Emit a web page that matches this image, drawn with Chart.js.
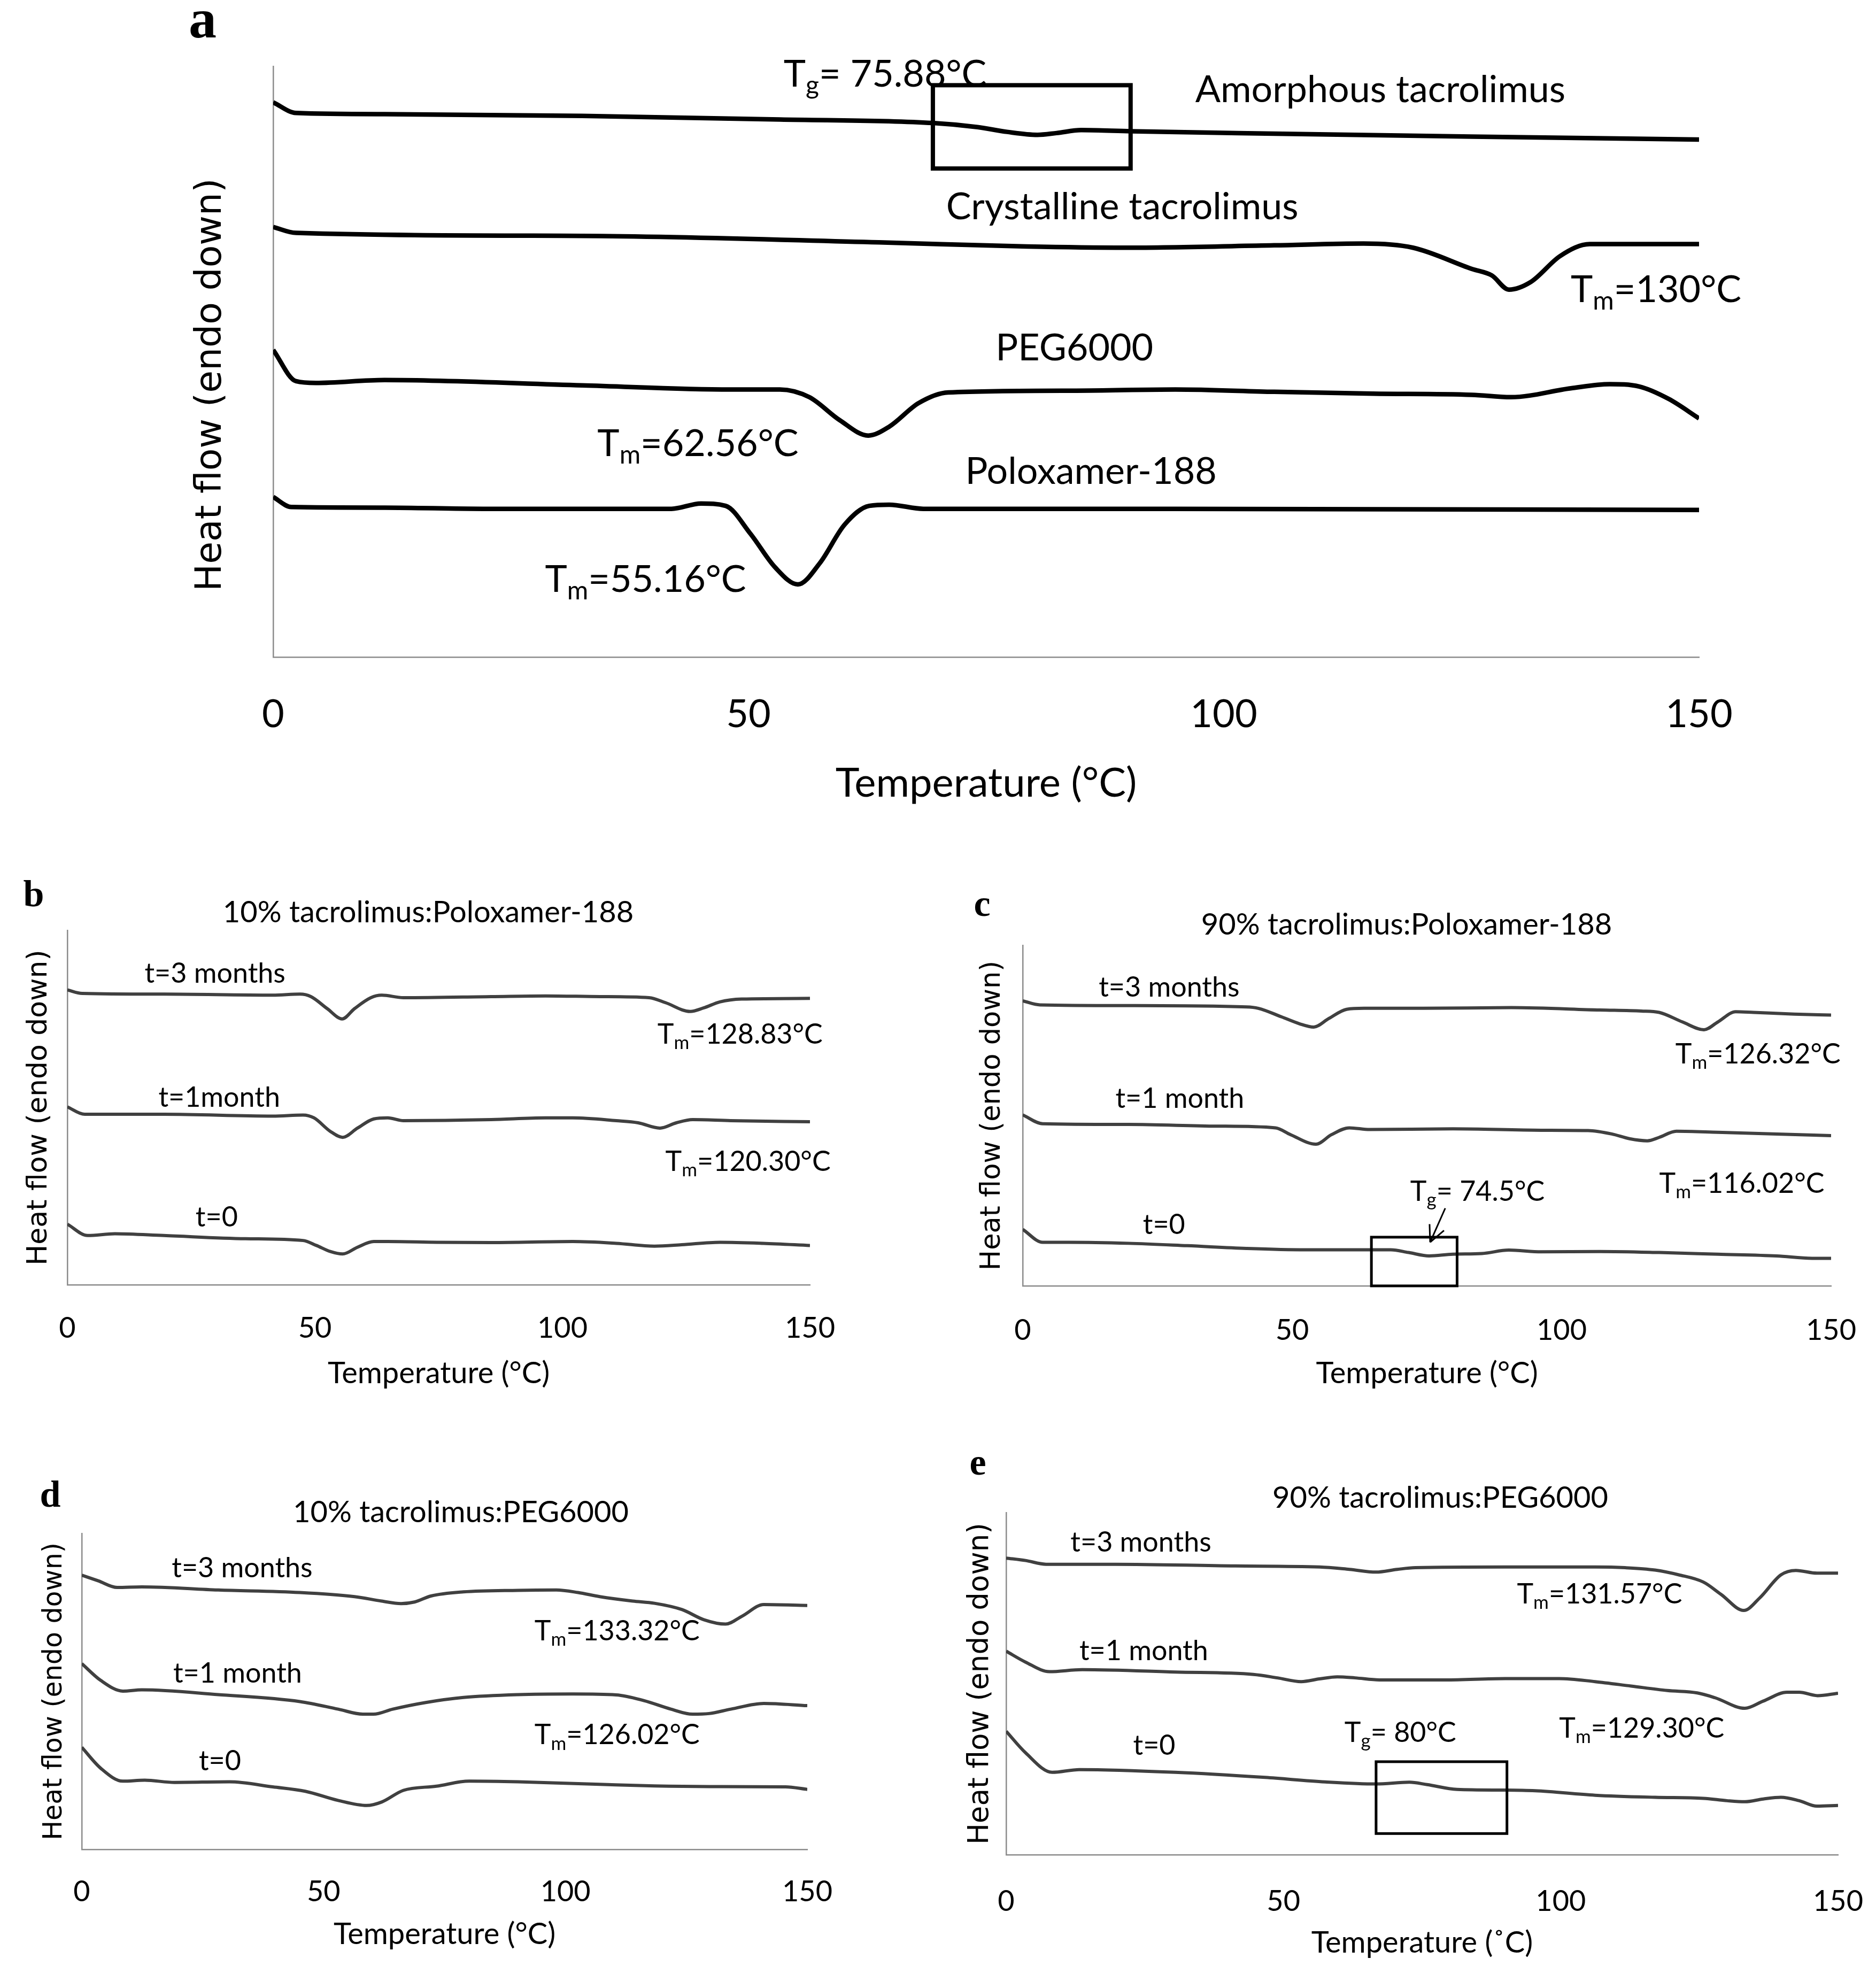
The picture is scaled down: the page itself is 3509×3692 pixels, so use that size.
<!DOCTYPE html>
<html>
<head>
<meta charset="utf-8">
<script src="https://cdn.jsdelivr.net/npm/chart.js@4.4.1/dist/chart.umd.min.js"></script>
<style>
  html, body { margin: 0; padding: 0; background: #fff; }
  #page { position: relative; width: 3509px; height: 3692px; overflow: hidden; background: #fff; }
  .box { position: absolute; }
  .lbl { position: absolute; transform: translate(-50%, -50%); white-space: nowrap; line-height: 1; color: #000; }
  .letter { font-family: "Liberation Serif", serif; font-weight: bold; }
  .ttl { font-family: Lato, sans-serif; }
</style>
</head>
<body>
<div id="page">
  <div class="lbl letter" style="left:379px;top:35px;font-size:104px">a</div>
  <div class="lbl letter" style="left:63px;top:1672px;font-size:70px">b</div>
  <div class="lbl letter" style="left:1837px;top:1690px;font-size:70px">c</div>
  <div class="lbl letter" style="left:94px;top:2795px;font-size:70px">d</div>
  <div class="lbl letter" style="left:1829px;top:2735px;font-size:70px">e</div>
  <div class="lbl ttl" style="left:801px;top:1704px;font-size:56px">10% tacrolimus:Poloxamer-188</div>
  <div class="lbl ttl" style="left:2631px;top:1727px;font-size:56px">90% tacrolimus:Poloxamer-188</div>
  <div class="lbl ttl" style="left:862px;top:2826px;font-size:56px">10% tacrolimus:PEG6000</div>
  <div class="lbl ttl" style="left:2694px;top:2799px;font-size:56px">90% tacrolimus:PEG6000</div>
</div>
<script>
// x ticks shared by every panel
const xTicks = [0, 50, 100, 150];

// panel a - pure components
const amorphT = [0, 2.4, 11.7, 32.5, 53.3, 69.4, 74.1, 77.2, 80.4, 82.4, 85.0, 90.2, 105.3, 126.1, 150];
const amorphHF = [93.9, 92.1, 91.9, 91.6, 91.0, 90.4, 89.7, 88.9, 88.4, 88.7, 89.2, 89.0, 88.6, 88.1, 87.6];
const crystT = [0, 2.4, 32.5, 63.7, 79.3, 89.7, 105.3, 114.7, 119.9, 126.1, 128.2, 130, 132.3, 135.4, 138.5, 150];
const crystHF = [72.8, 71.8, 71.3, 70.2, 69.5, 69.3, 69.7, 70.0, 69.3, 65.7, 64.6, 62.2, 63.5, 67.9, 69.9, 69.9];
const pegT = [0, 2.4, 4.5, 11.7, 32.5, 48.1, 53.3, 56.4, 59.6, 62.6, 64.8, 67.9, 71.0, 84.5, 94.9, 105.3, 115.7, 126.1, 130.2, 136.5, 140.6, 143.7, 146.8, 150];
const pegHF = [52.0, 46.7, 46.4, 46.9, 46.0, 45.3, 45.3, 44.0, 40.1, 37.5, 39.0, 43.0, 44.8, 45.1, 45.3, 44.9, 44.6, 44.4, 44.0, 45.5, 46.2, 45.8, 43.7, 40.4];
const poloxT = [0, 1.9, 11.7, 22.1, 41.9, 45.0, 47.6, 50.2, 52.8, 55.2, 57.5, 60.1, 62.7, 64.8, 68.4, 94.9, 150];
const poloxHF = [27.1, 25.4, 25.3, 25.1, 25.1, 26.0, 25.6, 20.9, 15.2, 12.3, 15.9, 22.4, 25.6, 25.8, 25.1, 25.1, 24.9];

// panel b - 10% tacrolimus:Poloxamer-188
const b3T = [0, 3.0, 19.5, 41.5, 47.0, 49.2, 52.5, 55.5, 58.0, 61.3, 63.5, 67.9, 85.6, 96.6, 107.6, 117.5, 120.8, 125.8, 128.5, 131.8, 136.2, 150];
const b3HF = [83.2, 82.2, 82.0, 81.7, 82.0, 81.3, 77.9, 75.0, 77.9, 81.0, 81.7, 81.0, 81.3, 81.5, 81.3, 81.0, 79.6, 77.1, 78.1, 79.8, 80.6, 80.8];
const b1T = [0, 3.5, 19.5, 41.5, 47.6, 49.8, 53.1, 55.6, 58.6, 61.9, 64.7, 67.9, 85.6, 96.6, 102.1, 110.9, 115.3, 119.7, 123.0, 126.3, 134.0, 150];
const b1HF = [50.2, 48.1, 48.1, 47.6, 47.9, 47.1, 43.3, 41.6, 44.2, 46.8, 47.1, 46.3, 46.6, 47.1, 47.1, 46.3, 45.7, 44.2, 45.7, 46.6, 46.3, 46.0];
const b0T = [0, 4.1, 9.6, 19.5, 36.0, 47.6, 50.3, 53.1, 55.6, 58.6, 61.9, 64.7, 74.6, 85.6, 102.1, 110.9, 118.6, 124.1, 131.8, 140.6, 150];
const b0HF = [17.1, 13.9, 14.4, 13.9, 13.0, 12.5, 11.1, 9.4, 8.7, 10.6, 12.2, 12.2, 12.0, 11.9, 12.2, 11.7, 10.9, 11.3, 12.0, 11.7, 11.1];

// panel c - 90% tacrolimus:Poloxamer-188
const c3T = [0, 3.2, 19.6, 41.5, 43.7, 48.0, 51.3, 54.0, 56.8, 60.1, 63.3, 74.3, 90.7, 107.1, 114.8, 118.1, 122.4, 126.4, 129.0, 132.3, 135.6, 143.2, 150];
const c3HF = [83.7, 82.5, 82.3, 81.9, 81.5, 79.0, 77.0, 76.0, 78.5, 81.2, 81.5, 81.5, 81.7, 81.0, 80.7, 80.3, 77.5, 75.2, 77.5, 80.5, 80.3, 79.8, 79.5];
const c1T = [0, 3.7, 19.6, 36.0, 46.9, 49.7, 54.4, 57.3, 60.6, 64.4, 79.8, 96.2, 104.9, 109.3, 112.6, 115.9, 118.1, 121.3, 129.0, 139.9, 150];
const c1HF = [50.2, 47.6, 47.4, 46.9, 46.4, 44.4, 41.6, 44.4, 46.4, 45.9, 46.1, 45.7, 45.6, 44.6, 43.2, 42.6, 43.6, 45.4, 45.1, 44.6, 44.1];
const c0T = [0, 3.7, 8.6, 19.6, 30.5, 41.5, 52.4, 68.3, 71.6, 75.4, 79.8, 85.2, 90.2, 96.2, 107.1, 118.1, 129.0, 139.9, 146.5, 150];
const c0HF = [16.6, 12.8, 12.8, 12.5, 11.8, 11.0, 10.6, 10.6, 9.8, 8.8, 9.3, 9.5, 10.5, 10.0, 10.1, 9.8, 9.3, 8.8, 8.1, 8.1];

// panel d - 10% tacrolimus:PEG6000
const d3T = [0, 3.4, 7.3, 12.4, 28.2, 45.1, 56.4, 62.0, 66.0, 68.8, 72.2, 78.9, 90.2, 98.1, 102.6, 107.1, 113.9, 118.4, 124.1, 128.6, 133.1, 136.5, 141.0, 150];
const d3HF = [86.8, 85.0, 82.9, 83.1, 82.1, 81.3, 80.0, 78.6, 77.8, 78.3, 80.2, 81.5, 82.0, 82.1, 81.3, 80.0, 78.6, 77.9, 75.9, 72.7, 71.3, 73.8, 77.5, 77.2];
const d1T = [0, 3.9, 8.5, 12.4, 28.2, 45.1, 53.0, 58.1, 60.3, 64.3, 71.1, 78.9, 90.2, 101.5, 110.5, 116.2, 121.8, 126.3, 129.7, 134.2, 141.0, 150];
const d1HF = [58.8, 53.5, 50.1, 50.5, 49.0, 46.8, 44.4, 42.8, 42.8, 44.4, 46.5, 48.1, 49.0, 49.2, 48.9, 47.1, 44.4, 42.8, 43.0, 44.4, 46.2, 45.5];
const d0T = [0, 3.9, 8.5, 13.0, 19.2, 30.5, 39.5, 46.2, 53.0, 58.9, 62.0, 66.5, 73.3, 80.1, 90.2, 107.1, 118.4, 129.7, 145.5, 150];
const d0HF = [32.3, 25.7, 21.6, 21.9, 21.2, 21.4, 19.8, 18.4, 15.5, 13.9, 15.0, 18.7, 20.0, 21.6, 21.4, 20.6, 20.1, 19.9, 19.8, 19.0];

// panel e - 90% tacrolimus:PEG6000
const e3T = [0, 3.5, 7.2, 19.7, 41.3, 56.5, 61.9, 66.7, 70.5, 73.8, 90.0, 106.2, 111.6, 117.0, 121.3, 125.7, 128.9, 133.0, 135.9, 139.7, 142.4, 146.2, 150];
const e3HF = [86.7, 86.0, 84.9, 84.9, 84.4, 84.1, 83.4, 82.6, 83.4, 83.9, 84.1, 84.1, 83.9, 83.2, 81.8, 79.7, 76.1, 71.4, 75.1, 81.8, 83.1, 82.3, 82.3];
const e1T = [0, 3.5, 7.8, 13.7, 30.5, 44.6, 48.9, 53.2, 56.5, 59.7, 62.9, 67.3, 79.1, 90.0, 99.7, 106.2, 112.7, 119.2, 124.6, 127.8, 133.2, 136.5, 140.8, 143.0, 146.3, 150];
const e1HF = [59.5, 56.3, 53.5, 54.1, 53.4, 52.7, 51.7, 50.6, 51.4, 52.0, 51.7, 51.1, 51.1, 51.5, 51.5, 50.6, 49.3, 48.0, 47.3, 45.9, 42.8, 44.9, 47.5, 47.5, 46.5, 47.2];
const e0T = [0, 3.5, 8.3, 13.2, 30.5, 46.7, 57.5, 66.7, 72.7, 75.9, 81.3, 90.0, 95.4, 106.2, 117.0, 125.7, 130.0, 133.2, 136.5, 139.7, 143.0, 146.2, 150];
const e0HF = [36.1, 29.8, 24.1, 24.9, 24.1, 22.6, 21.3, 20.7, 21.2, 20.5, 19.1, 18.9, 18.7, 17.4, 16.8, 16.5, 15.8, 15.5, 16.3, 16.8, 15.8, 14.2, 14.4];

// text notes placed in data units: [temperature, heat flow, text]
const aNotes = [
  [53.7, 98.6, "T_{g}= 75.88°C"],
  [97.0, 96.0, "Amorphous tacrolimus"],
  [70.8, 76.2, "Crystalline tacrolimus"],
  [136.5, 62.1, "T_{m}=130°C"],
  [76.0, 52.3, "PEG6000"],
  [34.1, 36.1, "T_{m}=62.56°C"],
  [72.8, 31.4, "Poloxamer-188"],
  [28.6, 13.1, "T_{m}=55.16°C"]
];
const bNotes = [
  [15.6, 87.7, "t=3 months"],
  [119.2, 70.6, "T_{m}=128.83°C"],
  [18.4, 52.8, "t=1month"],
  [120.8, 34.7, "T_{m}=120.30°C"],
  [25.9, 19.0, "t=0"]
];
const cNotes = [
  [14.1, 87.5, "t=3 months"],
  [121.1, 67.9, "T_{m}=126.32°C"],
  [17.2, 54.9, "t=1 month"],
  [118.1, 29.9, "T_{m}=116.02°C"],
  [71.9, 27.6, "T_{g}= 74.5°C"],
  [22.3, 17.8, "t=0"]
];
const dNotes = [
  [18.6, 89.0, "t=3 months"],
  [93.6, 69.0, "T_{m}=133.32°C"],
  [18.9, 55.6, "t=1 month"],
  [93.6, 36.1, "T_{m}=126.02°C"],
  [24.2, 27.8, "t=0"]
];
const eNotes = [
  [11.6, 91.2, "t=3 months"],
  [92.1, 76.1, "T_{m}=131.57°C"],
  [13.2, 59.5, "t=1 month"],
  [61.0, 35.6, "T_{g}= 80°C"],
  [99.7, 36.8, "T_{m}=129.30°C"],
  [22.9, 31.9, "t=0"]
];

function drawRich(ctx, str, x, y, size) {
  const re = /_\{([^}]*)\}/g;
  const parts = [];
  let last = 0, m;
  while ((m = re.exec(str))) {
    if (m.index > last) parts.push([str.slice(last, m.index), false]);
    parts.push([m[1], true]);
    last = re.lastIndex;
  }
  if (last < str.length) parts.push([str.slice(last), false]);
  let cx = x;
  for (const [t, sub] of parts) {
    ctx.font = (sub ? Math.round(size * 0.68) : size) + "px Lato";
    ctx.fillText(t, cx, sub ? y + size * 0.3 : y);
    cx += ctx.measureText(t).width;
  }
}

function notesPlugin(notes, noteSize, boxes, arrows, boxWidth) {
  return {
    id: "notes",
    afterDatasetsDraw(chart) {
      const ctx = chart.ctx;
      const sx = chart.scales.x, sy = chart.scales.y;
      ctx.save();
      ctx.fillStyle = "#000";
      ctx.strokeStyle = "#000";
      ctx.textBaseline = "middle";
      ctx.textAlign = "left";
      notes.forEach(([t, v, s]) => drawRich(ctx, s, sx.getPixelForValue(t), sy.getPixelForValue(v), noteSize));
      ctx.lineWidth = boxWidth;
      boxes.forEach(([x0, x1, y0, y1]) => {
        const px0 = sx.getPixelForValue(x0), px1 = sx.getPixelForValue(x1);
        const py0 = sy.getPixelForValue(y1), py1 = sy.getPixelForValue(y0);
        ctx.strokeRect(px0, py0, px1 - px0, py1 - py0);
      });
      ctx.lineWidth = 3;
      arrows.forEach(([x0, y0, x1, y1]) => {
        const ax = sx.getPixelForValue(x0), ay = sy.getPixelForValue(y0);
        const bx = sx.getPixelForValue(x1), by = sy.getPixelForValue(y1);
        const ang = Math.atan2(by - ay, bx - ax);
        ctx.beginPath();
        ctx.moveTo(ax, ay); ctx.lineTo(bx, by);
        ctx.moveTo(bx, by); ctx.lineTo(bx - 34 * Math.cos(ang - 0.45), by - 34 * Math.sin(ang - 0.45));
        ctx.moveTo(bx, by); ctx.lineTo(bx - 34 * Math.cos(ang + 0.45), by - 34 * Math.sin(ang + 0.45));
        ctx.stroke();
      });
      ctx.restore();
    }
  };
}

function panel(p) {
  const page = document.getElementById("page");
  const w = p.R + p.padR - p.left;
  const h = p.B + p.xH - p.top;
  const wrap = document.createElement("div");
  wrap.className = "box";
  wrap.style.left = p.left + "px";
  wrap.style.top = p.top + "px";
  const cv = document.createElement("canvas");
  cv.width = w; cv.height = h;
  cv.style.width = w + "px"; cv.style.height = h + "px";
  wrap.appendChild(cv);
  page.insertBefore(wrap, page.firstChild);

  const axisLine = { display: true, color: "#8c8c8c", width: 2.5 };
  new Chart(cv.getContext("2d"), {
    type: "line",
    data: {
      datasets: p.series.map(([xs, ys]) => ({
        data: xs.map((t, i) => ({ x: t, y: ys[i] })),
        borderColor: p.color,
        borderWidth: p.lw,
        pointRadius: 0,
        cubicInterpolationMode: "monotone",
        fill: false
      }))
    },
    options: {
      responsive: false,
      devicePixelRatio: 1,
      animation: false,
      events: [],
      layout: { padding: { left: 0, top: p.T - p.top, right: p.padR, bottom: 0 } },
      plugins: { legend: { display: false }, tooltip: { enabled: false } },
      scales: {
        x: {
          type: "linear",
          min: 0,
          max: 150,
          afterBuildTicks: (s) => { s.ticks = xTicks.map((v) => ({ value: v })); },
          afterFit: (s) => { s.height = p.xH; },
          grid: { display: false, drawTicks: false },
          border: axisLine,
          ticks: { color: "#000", padding: p.tickPad, maxRotation: 0, font: { family: "Lato", size: p.tickSize } },
          title: { display: true, text: p.xTitle, color: "#000", padding: 0, font: { family: "Lato", size: p.xTitleSize } }
        },
        y: {
          type: "linear",
          min: 0,
          max: 100,
          afterFit: (s) => { s.width = p.L - p.left; },
          grid: { display: false, drawTicks: false },
          border: axisLine,
          ticks: { display: false },
          title: { display: true, text: p.yTitle, color: "#000", padding: 0, font: { family: "DejaVu Sans", size: p.yTitleSize } }
        }
      }
    },
    plugins: [notesPlugin(p.notes, p.noteSize, p.boxes || [], p.arrows || [], p.boxWidth || 5)]
  });
}

function build() {
  const yTitle = "Heat flow (endo down)";
  panel({
    left: 355, top: 54, L: 511, R: 3178, T: 124, B: 1229, padR: 160, xH: 282,
    tickPad: 65, tickSize: 72, xTitleSize: 76, yTitleSize: 68, xTitle: "Temperature (°C)",
    yTitle: yTitle + "\u00a0\u00a0\u00a0\u00a0",
    color: "#000", lw: 8.5, noteSize: 70, notes: aNotes, boxWidth: 8,
    boxes: [[69.4, 90.2, 82.7, 96.8]],
    series: [[amorphT, amorphHF], [crystT, crystHF], [pegT, pegHF], [poloxT, poloxHF]]
  });
  panel({
    left: 42, top: 1610, L: 126, R: 1515, T: 1740, B: 2403, padR: 115, xH: 200,
    tickPad: 49, tickSize: 54, xTitleSize: 56, yTitleSize: 52, xTitle: "Temperature (°C)",
    yTitle: yTitle,
    color: "#404040", lw: 6, noteSize: 52, notes: bNotes,
    series: [[b3T, b3HF], [b1T, b1HF], [b0T, b0HF]]
  });
  panel({
    left: 1826, top: 1648, L: 1913, R: 3425, T: 1768, B: 2405, padR: 115, xH: 198,
    tickPad: 51, tickSize: 54, xTitleSize: 56, yTitleSize: 51, xTitle: "Temperature (°C)",
    yTitle: yTitle,
    color: "#404040", lw: 6, noteSize: 52, notes: cNotes, boxWidth: 5,
    boxes: [[64.7, 80.6, 0, 14.3]],
    arrows: [[78.4, 22.8, 75.6, 12.8]],
    series: [[c3T, c3HF], [c1T, c1HF], [c0T, c0HF]]
  });
  panel({
    left: 73, top: 2748, L: 153, R: 1510, T: 2868, B: 3459, padR: 115, xH: 193,
    tickPad: 47, tickSize: 54, xTitleSize: 56, yTitleSize: 49, xTitle: "Temperature (°C)",
    yTitle: yTitle,
    color: "#404040", lw: 6, noteSize: 52, notes: dNotes,
    series: [[d3T, d3HF], [d1T, d1HF], [d0T, d0HF]]
  });
  panel({
    left: 1802, top: 2709, L: 1882, R: 3438, T: 2829, B: 3469, padR: 115, xH: 199,
    tickPad: 55, tickSize: 54, xTitleSize: 56, yTitleSize: 53, xTitle: "Temperature (˚C)",
    yTitle: yTitle,
    color: "#404040", lw: 6, noteSize: 52, notes: eNotes, boxWidth: 5,
    boxes: [[66.7, 90.3, 6.2, 27.2]],
    series: [[e3T, e3HF], [e1T, e1HF], [e0T, e0HF]]
  });
}

Promise.all([
  document.fonts.load("52px Lato"),
  document.fonts.load("52px 'DejaVu Sans'")
]).then(build, build);
</script>
</body>
</html>
